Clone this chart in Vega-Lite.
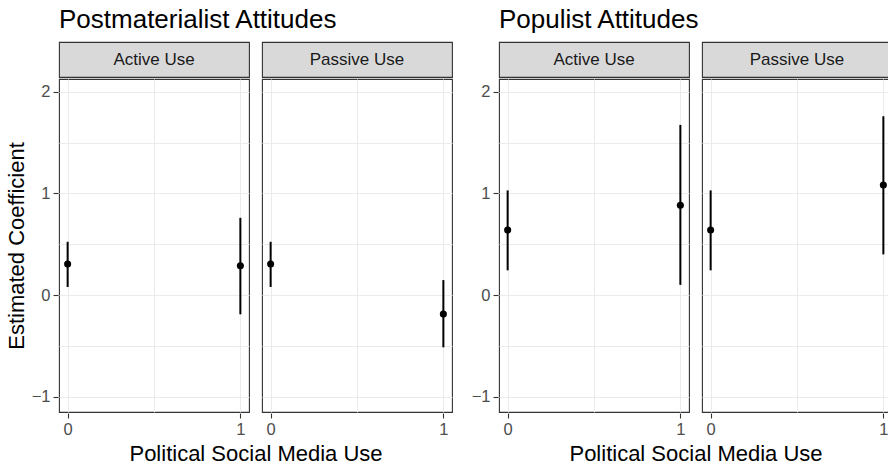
{
  "$schema": "https://vega.github.io/schema/vega-lite/v6.json",
  "background": "white",
  "padding": {"left": 5, "top": 7, "right": 0, "bottom": 0},
  "config": {
    "font": "Liberation Sans",
    "view": {"stroke": "#333333", "strokeWidth": 1.1},
    "axis": {
      "domain": false,
      "gridColor": "#EBEBEB",
      "gridWidth": 1.1,
      "tickColor": "#333333",
      "tickSize": 5,
      "tickWidth": 1.1,
      "labelColor": "#4D4D4D",
      "labelFontSize": 16.5,
      "labelFont": "Liberation Sans",
      "titleFont": "Liberation Sans",
      "titleFontSize": 22,
      "titleFontWeight": "normal",
      "titleColor": "#000000"
    },
    "header": {
      "titleFont": "Liberation Sans",
      "titleFontSize": 22,
      "titleFontWeight": "normal",
      "titleColor": "#000000"
    },
    "concat": {"spacing": 18}
  },
  "datasets": {
    "coef": [
      {"group": "Postmaterialist", "panel": "Active Use", "x": 0, "est": 0.305, "lo": 0.079, "hi": 0.524},
      {"group": "Postmaterialist", "panel": "Active Use", "x": 1, "est": 0.288, "lo": -0.19, "hi": 0.76},
      {"group": "Postmaterialist", "panel": "Passive Use", "x": 0, "est": 0.305, "lo": 0.079, "hi": 0.524},
      {"group": "Postmaterialist", "panel": "Passive Use", "x": 1, "est": -0.187, "lo": -0.515, "hi": 0.147},
      {"group": "Populist", "panel": "Active Use", "x": 0, "est": 0.64, "lo": 0.243, "hi": 1.03},
      {"group": "Populist", "panel": "Active Use", "x": 1, "est": 0.884, "lo": 0.1, "hi": 1.675},
      {"group": "Populist", "panel": "Passive Use", "x": 0, "est": 0.64, "lo": 0.243, "hi": 1.03},
      {"group": "Populist", "panel": "Passive Use", "x": 1, "est": 1.084, "lo": 0.4, "hi": 1.76}
    ]
  },
  "hconcat": [
    {
      "title": {"text": "Postmaterialist Attitudes", "anchor": "start", "frame": "group", "fontSize": 26, "fontWeight": "normal", "color": "#000000", "font": "Liberation Sans", "offset": 8},
      "spacing": 0,
      "vconcat": [
        {
          "data": {"name": "coef"},
          "transform": [
            {"filter": "datum.group === 'Postmaterialist'"},
            {"aggregate": [{"op": "count", "as": "n"}], "groupby": ["panel"]}
          ],
          "facet": {"column": {"field": "panel", "type": "nominal", "header": {"labels": false, "title": null}}},
          "spacing": 11,
          "spec": {
            "width": 190,
            "height": 35,
            "view": {"fill": "#D9D9D9", "stroke": "#333333", "strokeWidth": 1.1},
            "mark": {"type": "text", "fontSize": 17, "color": "#1A1A1A", "font": "Liberation Sans"},
            "encoding": {"text": {"field": "panel", "type": "nominal"}}
          }
        },
        {
          "data": {"name": "coef"},
          "transform": [{"filter": "datum.group === 'Postmaterialist'"}],
          "facet": {"column": {"field": "panel", "type": "nominal", "title": "Political Social Media Use", "header": {"labels": false, "titleOrient": "bottom", "titlePadding": -4}}},
          "spacing": 11,
          "spec": {
            "width": 190,
            "height": 333,
            "encoding": {
              "x": {
                "field": "x", "type": "quantitative",
                "scale": {"domain": [-0.05, 1.05], "nice": false, "zero": false},
                "axis": {
                  "title": null,
                  "values": [0, 0.5, 1],
                  "labelExpr": "datum.value === 0.5 ? '' : format(datum.value, 'd')",
                  "tickOpacity": {"condition": {"test": "datum.value === 0.5", "value": 0}, "value": 1},
                  "labelFontSize": 16.5,
                  "labelPadding": 3
                }
              }
            },
            "layer": [
              {
                "mark": {"type": "rule", "strokeWidth": 2, "color": "#000000"},
                "encoding": {
                  "y": {
                    "field": "lo", "type": "quantitative",
                    "scale": {"domain": [-1.152, 2.127], "nice": false, "zero": false},
                    "axis": {
                      "title": "Estimated Coefficient",
                      "values": [-1, -0.5, 0, 0.5, 1, 1.5, 2],
                      "labelExpr": "datum.value % 1 === 0 ? format(datum.value, 'd') : ''",
                      "tickOpacity": {"condition": {"test": "datum.value % 1 !== 0", "value": 0}, "value": 1},
                      "labelFontSize": 16.5,
                      "labelPadding": 3,
                      "titlePadding": 3
                    }
                  },
                  "y2": {"field": "hi"}
                }
              },
              {
                "mark": {"type": "point", "filled": true, "size": 50, "color": "#000000", "opacity": 1},
                "encoding": {"y": {"field": "est", "type": "quantitative"}}
              }
            ]
          }
        }
      ]
    },
    {
      "title": {"text": "Populist Attitudes", "anchor": "start", "frame": "group", "fontSize": 26, "fontWeight": "normal", "color": "#000000", "font": "Liberation Sans", "offset": 8},
      "spacing": 0,
      "vconcat": [
        {
          "data": {"name": "coef"},
          "transform": [
            {"filter": "datum.group === 'Populist'"},
            {"aggregate": [{"op": "count", "as": "n"}], "groupby": ["panel"]}
          ],
          "facet": {"column": {"field": "panel", "type": "nominal", "header": {"labels": false, "title": null}}},
          "spacing": 11,
          "spec": {
            "width": 190,
            "height": 35,
            "view": {"fill": "#D9D9D9", "stroke": "#333333", "strokeWidth": 1.1},
            "mark": {"type": "text", "fontSize": 17, "color": "#1A1A1A", "font": "Liberation Sans"},
            "encoding": {"text": {"field": "panel", "type": "nominal"}}
          }
        },
        {
          "data": {"name": "coef"},
          "transform": [{"filter": "datum.group === 'Populist'"}],
          "facet": {"column": {"field": "panel", "type": "nominal", "title": "Political Social Media Use", "header": {"labels": false, "titleOrient": "bottom", "titlePadding": -4}}},
          "spacing": 11,
          "spec": {
            "width": 190,
            "height": 333,
            "encoding": {
              "x": {
                "field": "x", "type": "quantitative",
                "scale": {"domain": [-0.05, 1.05], "nice": false, "zero": false},
                "axis": {
                  "title": null,
                  "values": [0, 0.5, 1],
                  "labelExpr": "datum.value === 0.5 ? '' : format(datum.value, 'd')",
                  "tickOpacity": {"condition": {"test": "datum.value === 0.5", "value": 0}, "value": 1},
                  "labelFontSize": 16.5,
                  "labelPadding": 3
                }
              }
            },
            "layer": [
              {
                "mark": {"type": "rule", "strokeWidth": 2, "color": "#000000"},
                "encoding": {
                  "y": {
                    "field": "lo", "type": "quantitative",
                    "scale": {"domain": [-1.152, 2.127], "nice": false, "zero": false},
                    "axis": {
                      "title": null,
                      "values": [-1, -0.5, 0, 0.5, 1, 1.5, 2],
                      "labelExpr": "datum.value % 1 === 0 ? format(datum.value, 'd') : ''",
                      "tickOpacity": {"condition": {"test": "datum.value % 1 !== 0", "value": 0}, "value": 1},
                      "labelFontSize": 16.5,
                      "labelPadding": 3
                    }
                  },
                  "y2": {"field": "hi"}
                }
              },
              {
                "mark": {"type": "point", "filled": true, "size": 50, "color": "#000000", "opacity": 1},
                "encoding": {"y": {"field": "est", "type": "quantitative"}}
              }
            ]
          }
        }
      ]
    }
  ]
}
